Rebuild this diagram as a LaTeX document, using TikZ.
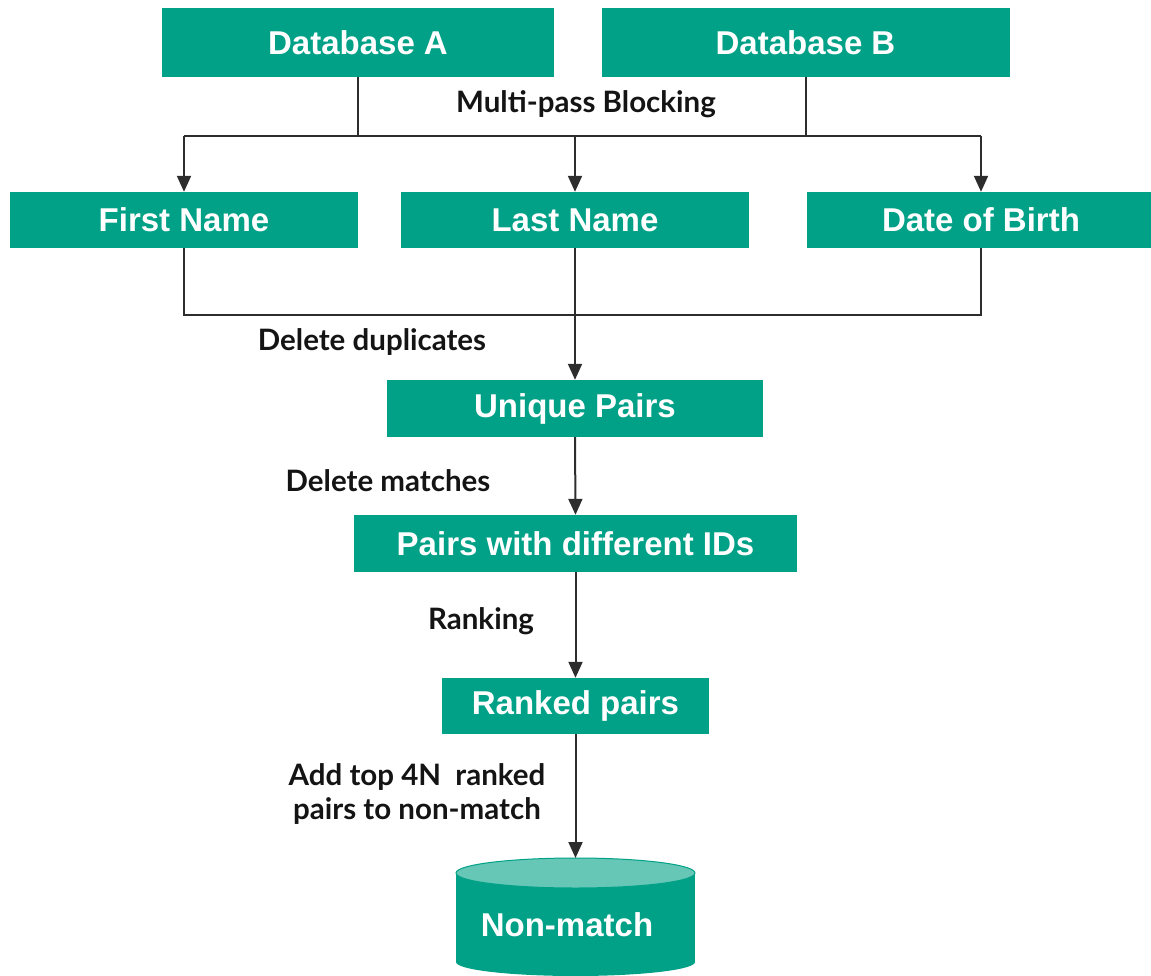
\documentclass[tikz,border=0pt]{standalone}
\usepackage{fontspec}
\setmainfont{Liberation Sans}
\newfontfamily\latofont{Lato}
\usetikzlibrary{arrows.meta}
\definecolor{teal1}{RGB}{0,161,135}
\definecolor{teallight}{RGB}{102,199,182}
\definecolor{linec}{RGB}{45,45,45}
\definecolor{labc}{RGB}{20,20,20}
\tikzset{
  box/.style={fill=teal1, draw=none, inner sep=0pt, text=white,
    font=\fontsize{33}{39}\selectfont\bfseries},
  lab/.style={text=labc, inner sep=0pt, align=center,
    font=\latofont\fontsize{29.5}{34}\selectfont\bfseries},
  conn/.style={draw=linec, line width=2pt},
  arr/.style={conn, -{Triangle[width=14pt,length=16pt]}}
}
\begin{document}
\begin{tikzpicture}[x=1pt,y=-1pt]
\useasboundingbox (0,0) rectangle (1151,976);
% boxes
\node[box, minimum width=392pt, minimum height=69pt] (dba) at (358,42.5) {Database A};
\node[box, minimum width=408pt, minimum height=69pt] (dbb) at (805.5,42.5) {Database B};
\node[box, minimum width=348pt, minimum height=56pt] (fn) at (184,220) {First Name};
\node[box, minimum width=348pt, minimum height=56pt] (ln) at (575,220) {Last Name};
\node[box, minimum width=348pt, minimum height=56pt] (dob) at (981,220) {Date of Birth};
\node[box, minimum width=376pt, minimum height=57pt] (up) at (575,408.5) {Unique Pairs};
\node[box, minimum width=443pt, minimum height=57pt] (pd) at (575.5,543.5) {Pairs with different IDs};
\node[box, minimum width=267pt, minimum height=56pt] (rp) at (575.5,706) {Ranked pairs};
% cylinder
\fill[teal1] (456,873) rectangle (695,962);
\fill[teal1] (575.5,962) ellipse [x radius=119.5pt, y radius=14pt];
\filldraw[fill=teallight, draw=teal1, line width=1pt] (575.5,873) ellipse [x radius=119.5pt, y radius=15pt];
\node[box, fill=none] (nm) at (567,925) {Non-match};
\coordinate (cyltop) at (575.5,858);
% connectors
\coordinate (hb) at (0,136);
\coordinate (hd) at (0,315);
\draw[conn] (dba.south) -- (dba.south |- hb);
\draw[conn] (dbb.south) -- (dbb.south |- hb);
\draw[conn] (fn.north |- hb) -- (dob.north |- hb);
\draw[arr] (fn.north |- hb) -- (fn.north);
\draw[arr] (ln.north |- hb) -- (ln.north);
\draw[arr] (dob.north |- hb) -- (dob.north);
\draw[conn] (fn.south) |- (dob.south |- hd) -- (dob.south);
\draw[arr] (ln.south) -- (up.north);
\draw[arr] (up.south) -- (pd.north);
\draw[arr] (pd.south) -- (rp.north);
\draw[arr] (rp.south) -- (cyltop);
% labels
\node[lab] (l1) at (586,104) {Multi-pass Blocking};
\node[lab] (l2) at (372,342) {Delete duplicates};
\node[lab] (l3) at (388,481) {Delete matches};
\node[lab] (l4) at (481,621) {Ranking};
\node[lab] (l5) at (417,794) {Add top 4N\ \ ranked\\pairs to non-match};
\end{tikzpicture}
\end{document}
